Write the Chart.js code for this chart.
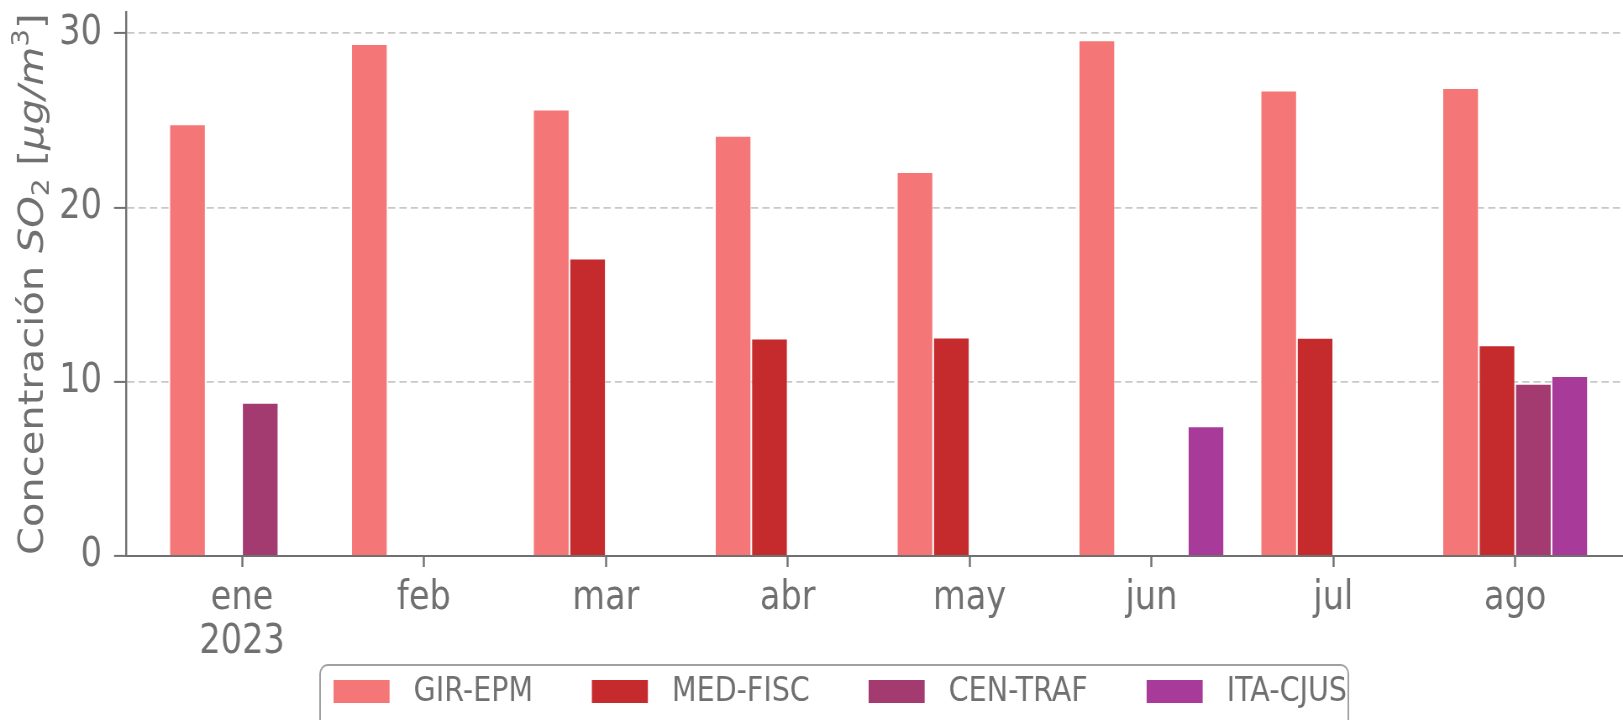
<!DOCTYPE html>
<html>
<head>
<meta charset="utf-8">
<script src="https://cdn.jsdelivr.net/npm/chart.js@4/dist/chart.umd.min.js"></script>
<style>
  html, body { margin: 0; padding: 0; background: #fff; overflow: hidden; }
</style>
</head>
<body>
<!-- drawn wider and squeezed back to 1623px, like the reference's narrow text -->
<canvas id="chart" width="1932" height="720" style="display:block;width:1623px;height:720px"></canvas>
<script>
const months = ['ene', 'feb', 'mar', 'abr', 'may', 'jun', 'jul', 'ago'];
const yearLabel = '2023';
const stations = ['GIR-EPM', 'MED-FISC', 'CEN-TRAF', 'ITA-CJUS'];
const girEpm = [24.78, 29.39, 25.63, 24.12, 22.04, 29.6, 26.72, 26.86];
const medFisc = [null, null, 17.08, 12.48, 12.54, null, 12.52, 12.1];
const cenTraf = [8.8, null, null, null, null, null, null, 9.89];
const itaCjus = [null, null, null, null, null, 7.44, null, 10.33];
const yTicks = [0, 10, 20, 30];
const colors = ['#f47676', '#c52b2d', '#a43b70', '#a83b99'];

const GRAY = '#707070';
const FONT = "'DejaVu Sans', sans-serif";

const seriesValues = [girEpm, medFisc, cenTraf, itaCjus];

// y axis title with italic / sub / superscript runs
const yTitlePlugin = {
  id: 'yTitle',
  afterDraw(chart) {
    const ctx = chart.ctx;
    const area = chart.chartArea;
    const runs = [
      { t: 'Concentración ', it: false, s: 40, dy: 0 },
      { t: 'SO', it: true, s: 40, dy: 0 },
      { t: '2', it: false, s: 28, dy: 7 },
      { t: ' [', it: false, s: 40, dy: 0 },
      { t: 'μg/m', it: true, s: 40, dy: 0 },
      { t: '3', it: false, s: 28, dy: -17 },
      { t: ']', it: false, s: 40, dy: 0 }
    ];
    ctx.save();
    let total = 0;
    runs.forEach(function(r) {
      ctx.font = (r.it ? 'italic ' : '') + r.s + 'px ' + FONT;
      r.w = ctx.measureText(r.t).width;
      total += r.w;
    });
    ctx.translate(51, (area.top + area.bottom) / 2);
    ctx.rotate(-Math.PI / 2);
    ctx.fillStyle = GRAY;
    ctx.textBaseline = 'alphabetic';
    let x = -total / 2;
    runs.forEach(function(r) {
      ctx.font = (r.it ? 'italic ' : '') + r.s + 'px ' + FONT;
      ctx.fillText(r.t, x, r.dy);
      x += r.w;
    });
    ctx.restore();
  }
};

// framed legend under the axis
const legendPlugin = {
  id: 'boxLegend',
  afterDraw(chart) {
    const ctx = chart.ctx;
    ctx.save();
    ctx.strokeStyle = '#a0a0a0';
    ctx.lineWidth = 2;
    ctx.beginPath();
    ctx.roundRect(381, 665, 1605 - 381, 80, 9);
    ctx.stroke();
    ctx.font = '34px ' + FONT;
    ctx.textBaseline = 'middle';
    let x = 397;
    chart.data.datasets.forEach(function(ds) {
      ctx.fillStyle = ds.backgroundColor;
      ctx.fillRect(x, 680, 66.7, 23);
      x += 66.7 + 28.6;
      ctx.fillStyle = GRAY;
      ctx.fillText(ds.label, x, 692);
      x += ctx.measureText(ds.label).width + 70;
    });
    ctx.restore();
  }
};

new Chart(document.getElementById('chart'), {
  type: 'bar',
  data: {
    labels: months.map(function(m, i) { return i; }),
    datasets: stations.map(function(name, k) {
      return {
        label: name,
        data: seriesValues[k],
        backgroundColor: colors[k],
        borderColor: 'rgba(255,255,255,0.6)',
        borderWidth: 1,
        categoryPercentage: 0.8,
        barPercentage: 1.0
      };
    })
  },
  options: {
    responsive: false,
    devicePixelRatio: 1,
    animation: false,
    layout: { padding: { top: 12.4, left: 0, right: 0, bottom: 0 } },
    plugins: {
      legend: { display: false },
      tooltip: { enabled: false }
    },
    scales: {
      x: {
        type: 'linear',
        offset: false,
        min: -0.638,
        max: 7.593,
        afterBuildTicks: function(scale) {
          scale.ticks = months.map(function(m, i) { return { value: i }; });
        },
        afterFit: function(scale) {
          scale.height = 164;
          scale.paddingLeft = 0;
          scale.paddingRight = 0;
        },
        grid: {
          offset: false,
          drawOnChartArea: false,
          drawTicks: true,
          tickLength: 11,
          tickColor: GRAY,
          tickWidth: 2.4
        },
        border: { display: true, color: GRAY, width: 2 },
        ticks: {
          color: GRAY,
          padding: 10,
          maxRotation: 0,
          autoSkip: false,
          font: { family: FONT, size: 40, lineHeight: 1.1 },
          callback: function(v) {
            if (v === 0) return [months[0], yearLabel];
            return months[v];
          }
        }
      },
      y: {
        min: 0,
        max: 31.2,
        afterBuildTicks: function(scale) {
          scale.ticks = yTicks.map(function(v) { return { value: v }; });
        },
        afterFit: function(scale) {
          scale.width = 150;
          scale.paddingTop = 0;
          scale.paddingBottom = 0;
        },
        grid: {
          color: '#c8c8c8',
          lineWidth: 1.8,
          drawTicks: true,
          tickLength: 14.3,
          tickColor: GRAY,
          tickWidth: 2,
          tickBorderDash: []
        },
        border: { display: true, color: GRAY, width: 2.4, dash: [8.7, 4.8] },
        title: { display: false },
        ticks: {
          color: GRAY,
          padding: 14.3,
          font: { family: FONT, size: 40 }
        }
      }
    }
  },
  plugins: [yTitlePlugin, legendPlugin]
});
</script>
</body>
</html>
